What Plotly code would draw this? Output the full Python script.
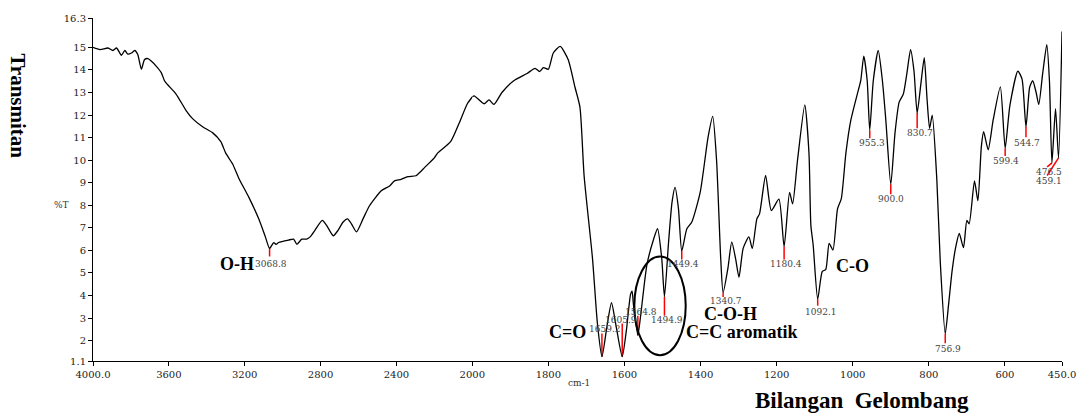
import plotly.graph_objects as go
import numpy as np

# ---------------- data ----------------
wavenumber = [
    4000, 3963, 3921, 3895, 3876, 3850, 3832, 3816, 3797, 3780, 3764, 3745, 3728, 3710, 3693,
    3667, 3640, 3623, 3606, 3562, 3509, 3475, 3422, 3370, 3326, 3300, 3265, 3230, 3178, 3126,
    3091, 3068.8, 3047, 3035, 3021, 2969, 2942, 2925, 2899, 2873, 2855, 2829, 2791, 2768, 2733,
    2707, 2681, 2658, 2637, 2611, 2576, 2541, 2480, 2436, 2410, 2375, 2340, 2297, 2270, 2253,
    2200, 2183, 2114, 2070, 2026, 2000,
    1995, 1969, 1956, 1943, 1922, 1891, 1856, 1835, 1823, 1813, 1800, 1787, 1769, 1748, 1730,
    1717, 1706, 1684, 1671, 1659.2, 1645, 1634, 1623, 1605.9, 1595, 1584, 1580, 1576.5, 1564.8,
    1558, 1541, 1523, 1513, 1502, 1494.9, 1484, 1475, 1467, 1458, 1449.4, 1436, 1423, 1401,
    1380, 1368, 1358, 1347, 1340.7, 1328, 1318, 1308, 1299, 1288, 1273, 1264, 1252, 1245,
    1229, 1214, 1194, 1180.4, 1166, 1158, 1145, 1126, 1115, 1110, 1104, 1092.1, 1080, 1071,
    1062, 1052, 1040, 1030, 1018, 1005, 988, 979, 971, 962, 955.3, 946, 933, 922, 913, 900.0,
    889, 878, 867, 858, 848, 839, 830.7, 821, 812, 805, 798, 791, 779, 770, 756.9, 748, 739,
    730, 720, 709, 700, 694, 680, 671, 662, 656, 644, 631, 612, 599.4, 587, 566, 555, 544.7,
    535, 527, 518, 511, 501, 490, 483, 476.5, 467, 459.1, 450,
]
transmittance = [
    15.00, 14.90, 14.97, 14.86, 14.97, 14.65, 14.86, 14.70, 14.75, 14.86, 14.68, 14.03, 14.46, 14.50, 14.39,
    14.17, 13.88, 13.52, 13.34, 12.93, 12.20, 11.84, 11.48, 11.22, 10.82, 10.31, 9.85, 9.18, 8.35, 7.40,
    6.60, 6.09, 6.35, 6.27, 6.35, 6.46, 6.50, 6.27, 6.50, 6.50, 6.60, 6.90, 7.33, 7.11, 6.65,
    6.90, 7.26, 7.40, 7.18, 6.82, 7.40, 7.99, 8.64, 8.86, 9.08, 9.15, 9.27, 9.31, 9.51, 9.66,
    10.10, 10.31, 10.82, 11.62, 12.50, 12.80,
    12.85, 12.50, 12.67, 12.47, 13.00, 13.52, 13.84, 14.07, 13.93, 14.10, 14.03, 14.75, 15.04, 14.46, 13.23,
    12.35, 9.30, 5.65, 2.75, 1.29, 2.75, 3.69, 2.75, 1.29, 2.45, 4.05, 4.20, 3.62, 2.24,
    3.03, 5.36, 6.52, 6.96, 5.65, 3.95, 6.38, 8.13, 8.79, 7.84, 5.98, 6.96, 7.26, 8.57,
    11.04, 11.94, 10.02, 5.65, 4.13, 5.22, 6.38, 5.65, 4.81, 6.09, 6.60, 6.09, 7.40, 7.62,
    9.32, 7.77, 8.27, 6.17, 8.57, 8.06, 10.02, 12.45, 10.31, 7.11, 6.24, 3.84, 5.07, 5.15,
    6.31, 6.02, 7.84, 8.30, 10.31, 11.77, 12.93, 13.52, 14.61, 13.52, 11.33, 13.52, 14.86, 13.52, 11.77, 8.93,
    11.19, 12.57, 12.93, 13.81, 14.90, 13.95, 12.09, 13.37, 14.54, 12.79, 11.41, 11.99, 9.15, 5.51, 2.31, 3.62, 5.07,
    6.09, 6.75, 6.12, 7.33, 7.18, 9.08, 8.20, 10.60, 11.26, 10.46, 11.77, 13.25, 10.53, 12.42, 13.95, 13.59, 11.48,
    13.23, 13.52, 13.00, 12.47, 13.81, 15.12, 13.52, 9.88, 12.28, 10.10, 15.70,
]

peak_wn = [3068.8, 1659.2, 1605.9, 1564.8, 1494.9, 1449.4, 1340.7, 1180.4, 1092.1,
           955.3, 900.0, 830.7, 756.9, 599.4, 544.7, 476.5, 459.1]
peak_T = [6.09, 1.29, 1.29, 2.24, 3.95, 5.98, 4.13, 6.17, 3.84,
          11.33, 8.93, 12.09, 2.31, 10.53, 11.48, 9.88, 10.10]
peak_text = ["3068.8", "1659.2", "1605.9", "1564.8", "1494.9", "1449.4", "1340.7", "1180.4", "1092.1",
             "955.3", "900.0", "830.7", "756.9", "599.4", "544.7", "476.5", "459.1"]

group_labels = ["O-H", "C=O", "C=C aromatik", "C-O-H", "C-O"]

x1_ticks = [4000, 3600, 3200, 2800, 2400, 2000]
x1_ticktext = ["4000.0", "3600", "3200", "2800", "2400", "2000"]
x2_ticks = [1800, 1600, 1400, 1200, 1000, 800, 600, 450]
x2_ticktext = ["1800", "1600", "1400", "1200", "1000", "800", "600", "450.0"]
y_ticks = [1.1, 2, 3, 4, 5, 6, 7, 8, 9, 10, 11, 12, 13, 14, 15, 16.3]
y_ticktext = ["1.1", "2", "3", "4", "5", "6", "7", "8", "9", "10", "11", "12", "13", "14", "15", "16.3"]

# ---------------- layout helpers (positions / styles) ----------------
label_line_end = [(3068.8, 5.73), (1659.2, 2.32), (1605.9, 2.76), (1564.8, 3.11), (1494.9, 3.11),
                  (1449.4, 5.60), (1340.7, 3.94), (1180.4, 5.60), (1092.1, 3.55), (955.3, 10.97),
                  (900.0, 8.49), (830.7, 11.41), (756.9, 1.89), (599.4, 10.18), (544.7, 11.01),
                  (489, 9.70), (489, 9.32)]
label_text_pos = [(3063, 5.42), (1650, 2.50), (1608, 2.93), (1557, 3.28), (1487, 2.93),
                  (1445, 5.42), (1332, 3.76), (1175, 5.38), (1084, 3.28), (950, 10.75),
                  (900, 8.26), (824, 11.19), (750, 1.62), (596, 9.96), (541, 10.75),
                  (485, 9.48), (485, 9.09)]
group_pos = [(3241, 5.40, "center"), (1749, 2.40, "center"), (1444, 2.40, "left"),
             (1321, 3.18, "center"), (1000, 5.30, "center")]

FONT_SMALL = "DejaVu Serif"
FONT_BOLD = "Liberation Serif"

wn = np.array(wavenumber, dtype=float)
tt = np.array(transmittance, dtype=float)
m1 = wn >= 2000
m2 = wn <= 2000

fig = go.Figure()
line_style = dict(color="black", width=1.3, shape="spline", smoothing=0.6)
fig.add_trace(go.Scatter(x=wn[m1], y=tt[m1], mode="lines", line=line_style,
                         xaxis="x", yaxis="y", showlegend=False, hoverinfo="x+y"))
fig.add_trace(go.Scatter(x=wn[m2], y=tt[m2], mode="lines", line=line_style,
                         xaxis="x2", yaxis="y", showlegend=False, hoverinfo="x+y"))

shapes = []
annotations = []
for w, t, (we, te), (wx, ty), txt in zip(peak_wn, peak_T, label_line_end, label_text_pos, peak_text):
    ax = "x" if w >= 2000 else "x2"
    shapes.append(dict(type="line", xref=ax, yref="y", x0=w, y0=t, x1=we, y1=te,
                       line=dict(color="#ff0000", width=1.5), layer="below"))
    annotations.append(dict(xref=ax, yref="y", x=wx, y=ty, text=txt, showarrow=False,
                            font=dict(family=FONT_SMALL, size=9, color="#444"),
                            xanchor="center", yanchor="middle"))

for txt, (gx, gy, anc) in zip(group_labels, group_pos):
    ax = "x" if gx >= 2000 else "x2"
    annotations.append(dict(xref=ax, yref="y", x=gx, y=gy, text="<b>" + txt + "</b>", showarrow=False,
                            font=dict(family=FONT_BOLD, size=18, color="black"),
                            xanchor=anc, yanchor="middle"))

# ellipse around aromatic C=C region
shapes.append(dict(type="circle", xref="x2", yref="y", x0=1574, x1=1439, y0=1.36, y1=5.73,
                   line=dict(color="black", width=2)))

annotations += [
    dict(xref="paper", yref="paper", x=-0.077, y=0.744, text="<b>Transmitan</b>", textangle=90,
         showarrow=False, font=dict(family=FONT_BOLD, size=21, color="black"),
         xanchor="center", yanchor="middle"),
    dict(xref="paper", yref="paper", x=-0.032, y=0.454, text="%T", showarrow=False,
         font=dict(family=FONT_SMALL, size=9, color="#333"), xanchor="center", yanchor="middle"),
    dict(xref="paper", yref="paper", x=0.502, y=-0.063, text="cm-1", showarrow=False,
         font=dict(family=FONT_SMALL, size=9, color="#333"), xanchor="center", yanchor="middle"),
    dict(xref="paper", yref="paper", x=0.794, y=-0.115, text="<b>Bilangan\u00a0 Gelombang</b>",
         showarrow=False, font=dict(family=FONT_BOLD, size=23, color="black"),
         xanchor="center", yanchor="middle"),
]

L, R, T, B = 93, 19, 13, 53
W, H = 1088, 414
split = (475 - L) / (W - L - R)

axis_common = dict(showline=True, linecolor="black", linewidth=1, ticks="outside", ticklen=4,
                   tickcolor="black", showgrid=False, zeroline=False,
                   tickfont=dict(family=FONT_SMALL, size=10, color="#222"))

fig.update_layout(
    width=W, height=H, margin=dict(l=L, r=R, t=T, b=B),
    paper_bgcolor="white", plot_bgcolor="white",
    xaxis=dict(domain=[0, split], range=[4000, 2000], tickvals=x1_ticks, ticktext=x1_ticktext,
               anchor="y", **axis_common),
    xaxis2=dict(domain=[split, 1], range=[2000, 450], tickvals=x2_ticks, ticktext=x2_ticktext,
                anchor="y", **axis_common),
    yaxis=dict(domain=[0, 1], range=[1.1, 16.3], tickvals=y_ticks, ticktext=y_ticktext,
               anchor="x", **axis_common),
    shapes=shapes, annotations=annotations,
)

fig.write_html("out.html", config={"displayModeBar": False},
               post_script="document.body.style.margin='0';document.body.style.overflow='hidden';")
